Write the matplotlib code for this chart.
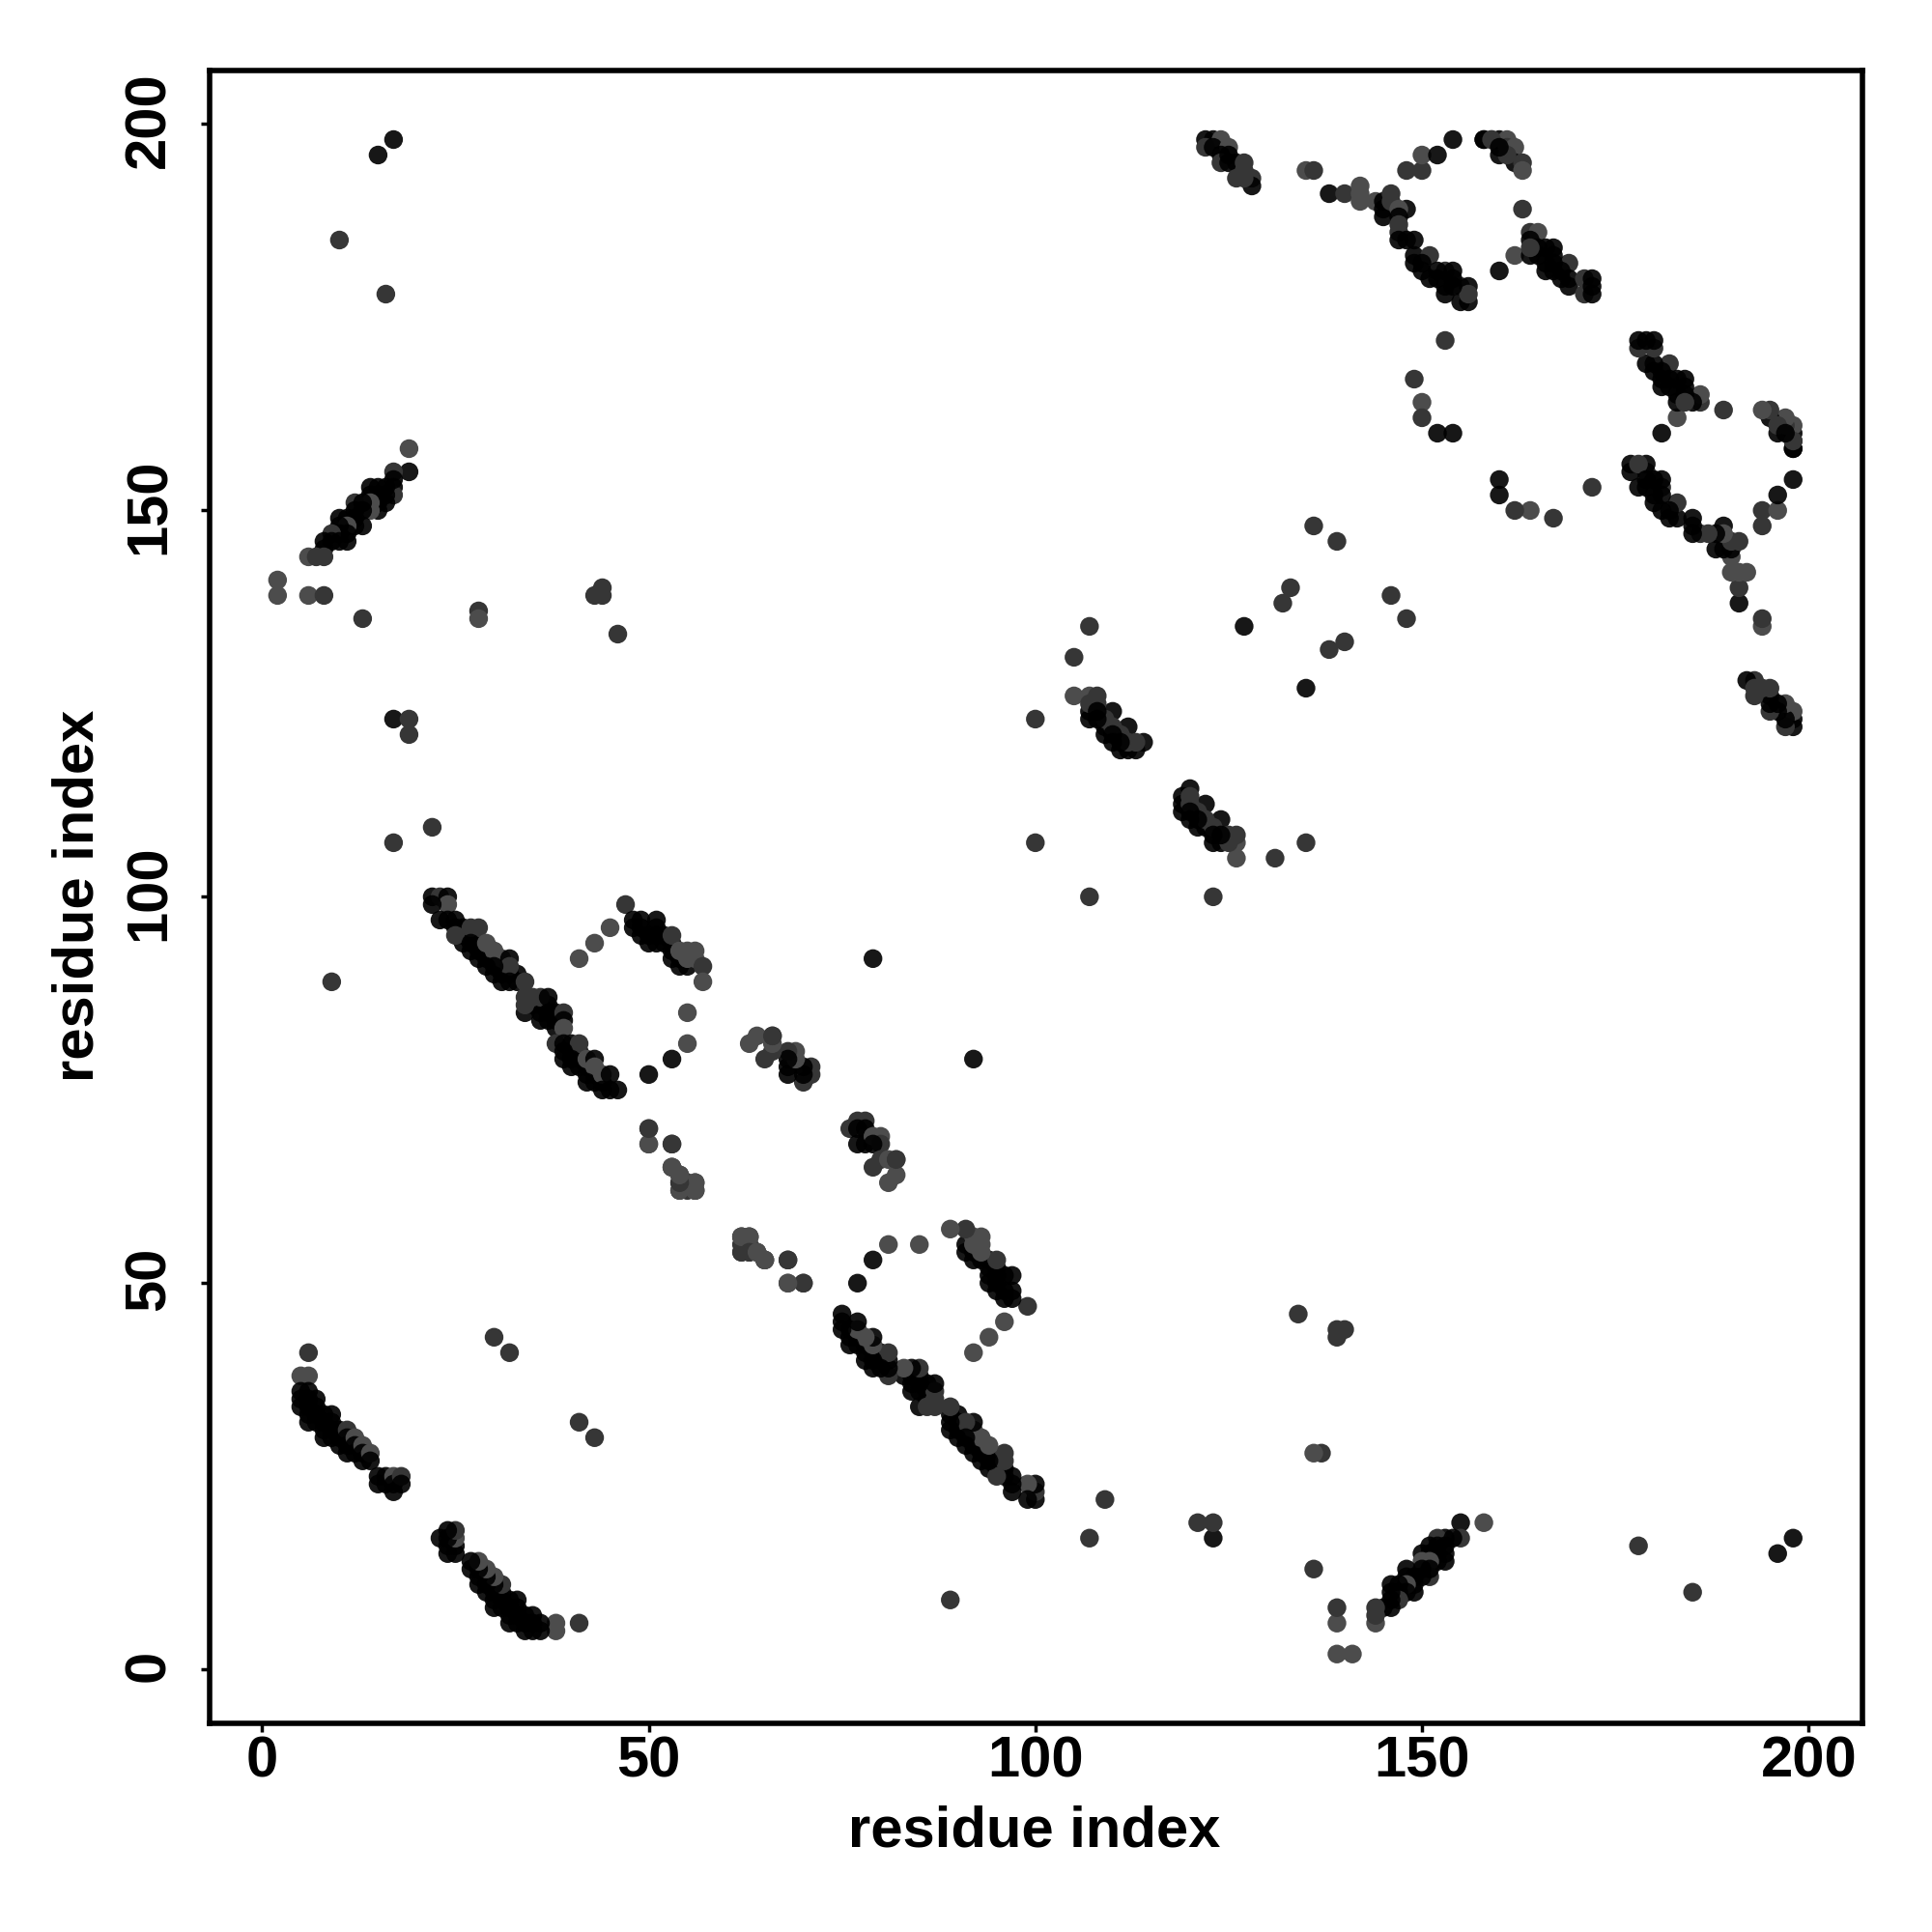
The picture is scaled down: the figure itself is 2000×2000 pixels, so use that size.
import numpy as np
import matplotlib
matplotlib.use("Agg")
import matplotlib.pyplot as plt
from matplotlib.transforms import ScaledTranslation

plt.rcParams['font.family'] = ['Liberation Sans', 'DejaVu Sans']

# contacts (upper triangle only, the map is symmetric); shade 0=dark 1=medium 2=light
# region A
a_i = [6,5,6,5,5,5,6,6,6,6,6,7,7,7,7,8,8,8,9,9,9,8,9,10,10,10,11,11,11,11,12,12,12,13,13,13,14,14,15,15,16,16,17,17,17,18,18]
a_j = [41,38,38,36,35,34,36,35,34,33,32,35,34,33,32,33,32,31,33,32,31,30,30,31,30,29,31,30,29,28,30,29,28,29,28,27,28,27,25,24,25,24,25,24,23,25,24]
a_s = [1,2,2,0,0,0,0,0,0,0,0,0,0,0,0,0,0,0,0,0,0,0,0,0,0,0,1,0,0,0,2,0,0,2,0,0,2,0,0,0,0,0,2,0,0,1,0]
# region B filler
b0_i = [26,26,26,27,28,28,28,29,29,30,30,31,31,32,33,33,35,36,36,36,37,38,38,40,41,41,41,42,42,43,43,44,39]
b0_j = [96,95,94,95,94,93,92,93,92,92,90,91,90,90,89,90,86,86,85,84,86,85,83,80,80,79,78,78,77,77,76,76,79]
b0_s = [0]*33
# region B
b_i = [22,23,24,24,22,23,24,25,25,25,27,28,27,27,29,30,31,32,32,29,30,31,32,34,34,35,36,37,34,34,37,37,38,39,39,39,38,39,40,41,40,39,40,42,43,43,42,44,45,44,45,46]
b_j = [100,100,100,99,99,97,97,97,96,95,96,96,93,94,94,93,92,92,91,91,91,89,89,89,87,87,87,87,85,86,84,85,84,85,84,83,81,81,81,81,78,80,79,79,79,78,76,77,77,75,75,75]
b_s = [0,1,0,2,0,0,0,0,0,1,1,1,0,0,2,2,2,0,1,0,0,0,0,1,1,1,1,0,0,1,0,0,0,1,0,2,1,0,0,1,0,0,0,2,0,2,0,2,0,0,0,0]
# region C
c_i = [49,49,51,51,53,53,54,54,47,48,49,51,48,50,50,51,52,52,53,53,55,54,56,55,55,56,57,57,45,43,41,55,55,53,50]
c_j = [96,95,95,94,93,94,92,91,99,97,97,97,96,94,95,96,95,94,95,92,91,93,93,93,92,92,91,89,96,94,92,85,81,79,77]
c_s = [0,0,0,0,0,0,0,0,1,0,0,0,0,0,0,0,0,0,1,0,0,2,2,2,2,2,1,2,2,2,2,2,2,0,0]
# region D
d_i = [50,50,53,53,54,55,54,56,56,55]
d_j = [70,68,68,65,64,63,62,63,62,62]
d_s = [1,2,1,1,2,1,1,2,1,1]
# region E
e_i = [70,71,71,70,68,70,68,69,69,68,68,65,66,66,66,63,64,66]
e_j = [76,77,78,77,77,78,78,79,80,80,79,79,80,81,82,81,82,82]
e_s = [1,1,1,0,0,0,0,2,2,1,0,1,1,2,1,2,2,1]
# region F
f_i = [56,56,54,54,53,62,63,62,63,64,65,68,68,70]
f_j = [62,63,63,64,65,56,56,54,54,54,53,53,50,50]
f_s = [2,2,1,2,2,2,2,2,1,2,2,1,2,1]
# region G
g_i = [105,107,108,110,112,114,107,107,107,109,109,111,112,113,108,109,110,111,112,113,108,108,110,110,111]
g_j = [126,126,126,124,122,120,123,124,125,121,122,119,119,119,125,123,122,121,120,120,124,123,121,120,120]
g_s = [2,2,1,0,0,0,0,0,1,0,0,0,0,0,1,1,1,1,1,1,0,0,0,0,0]
# region H
h_i = [122,123,124,122,123,125,124,124,125,125,126,127,126,127,128,128,127]
h_j = [198,198,198,197,197,197,196,195,196,195,195,195,193,194,193,192,193]
h_s = [0,0,2,1,0,2,0,1,0,0,0,1,1,1,1,0,1]
# region I
m_i = [135,136,138,140,142,142,142,144,145,145,145,146,146,148,147,147,147,147,147,148,149,149,149,151,151,153,154,153,155,156,155,156,156,150,150,152,152,154,154,153]
m_j = [194,194,191,191,192,191,190,190,190,188,189,191,190,189,189,188,187,186,185,185,185,183,182,183,180,181,181,178,179,179,177,177,178,182,181,181,180,180,179,179]
m_s = [2,1,0,1,2,2,2,2,0,0,0,1,1,0,2,0,1,1,0,0,0,0,0,1,0,1,0,0,1,0,0,0,1,0,0,0,0,0,0,0]
# region J
n_i = [148,150,150,152,154,158,159,160,161,160,161,162,162,163,163,161,158,159,160]
n_j = [194,194,196,196,198,198,198,198,198,196,197,197,195,195,194,196,198,198,197]
n_s = [1,1,2,0,0,0,1,0,2,0,1,2,0,1,2,1,0,1,0]
# region K
p_i = [163,160,162,164,165,164,164,165,166,167,166,169,169,167,168,169,171,172,171,172,172,165,166,167,167,168,164]
p_j = [189,181,183,186,186,185,183,184,184,184,181,182,179,183,181,180,180,180,178,178,179,183,182,182,181,180,184]
p_s = [1,0,2,1,2,0,0,0,0,0,0,1,0,0,0,0,1,0,1,0,0,0,0,0,0,0,1]
# region L
q_i = [19,19,17,17,17,17,14,15,16,15,15,15,16,16,14,14,14,12,13,13,13,12,12,12,10,11,11,10,10,11,11,9,9,8,10,8,8,6,7]
q_j = [158,155,155,153,152,154,153,153,153,150,151,152,152,151,152,151,150,151,151,150,148,150,149,148,149,149,148,148,147,147,146,147,146,146,146,145,144,144,144]
q_s = [2,0,1,0,1,0,0,0,0,0,0,0,0,0,0,2,2,1,0,0,0,0,0,0,0,0,2,0,0,0,0,1,0,0,0,0,1,2,1]
# region M : isolated contacts
r_i = [15,17,10,16,2,2,6,8,13,28,28,43,44,44,46,17,19,19,17,22,9,30,32,100,100,105,107,127,132,133,136,139,79,149,150,150,152,154,153]
r_j = [196,198,185,178,141,139,139,139,136,137,136,139,140,139,134,123,123,121,107,109,89,43,41,123,107,131,135,135,138,140,148,146,92,167,164,162,160,160,172]
r_s = [0,0,1,1,2,2,2,1,1,1,2,1,1,1,1,0,1,1,1,1,1,1,1,1,1,1,1,0,1,1,1,1,0,1,2,1,0,0,1]
# region N : band between the 192-198 strand and the 158-163 strand
s_i = [158,158,159,159,160,160,161,161,162,163]
s_j = [194,195,194,195,193,195,193,194,194,194]
s_s = [1,0,1,0,1,0,1,0,0,0]

gray_levels = [(0, 0, 0, 0.91), (0.212, 0.212, 0.212, 1), (0.298, 0.298, 0.298, 1)]
x_ticks = [0, 50, 100, 150, 200]
y_ticks = [0, 50, 100, 150, 200]
x_label = 'residue index'
y_label = 'residue index'

I = np.array(a_i+b0_i+b_i+c_i+d_i+e_i+f_i+g_i+h_i+m_i+n_i+p_i+q_i+r_i)
J = np.array(a_j+b0_j+b_j+c_j+d_j+e_j+f_j+g_j+h_j+m_j+n_j+p_j+q_j+r_j)
S = np.array(a_s+b0_s+b_s+c_s+d_s+e_s+f_s+g_s+h_s+m_s+n_s+p_s+q_s+r_s)
colors = np.array(gray_levels)[S]

fig = plt.figure(figsize=(20, 20), dpi=100, facecolor='white')
ax = fig.add_axes([216.5/2000, 1-1784/2000, (1927.5-216.5)/2000, (1784-72.5)/2000])
ax.scatter(np.r_[I, J], np.r_[J, I], s=195, c=np.r_[colors, colors], linewidths=0, zorder=3)
ax.set_xlim(-6.85, 206.9)
ax.set_ylim(-6.97, 207.0)
for sp in ax.spines.values():
    sp.set_linewidth(4)
ax.set_xticks(x_ticks)
ax.set_yticks(y_ticks)
ax.tick_params(axis='x', length=6.5, width=2.5, pad=2.5, labelsize=43)
ax.tick_params(axis='y', length=6.5, width=2.5, pad=18, labelsize=43)
for t in ax.get_xticklabels():
    t.set_fontweight('bold')
up = ScaledTranslation(0, 4/100, fig.dpi_scale_trans)
for t in ax.get_yticklabels():
    t.set_fontweight('bold')
    t.set_rotation(90)
    t.set_va('center')
    t.set_transform(t.get_transform() + up)
fig.text(1071/2000, 1-1896/2000, x_label, fontsize=43, fontweight='bold', ha='center', va='center')
fig.text(81/2000, 1-927/2000, y_label, fontsize=43, fontweight='bold', ha='center', va='center', rotation=90)
fig.savefig('out.png', dpi=100)
